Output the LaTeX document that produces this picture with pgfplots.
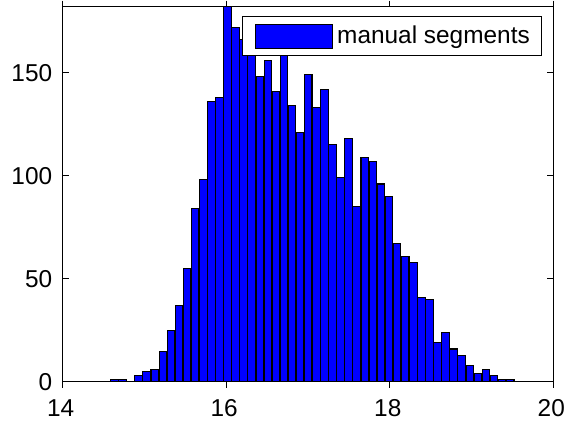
\documentclass[border=0pt]{standalone}
\usepackage{fontspec}
\setmainfont{Liberation Sans}
\usepackage{pgfplots}
\pgfplotsset{compat=1.18}
\definecolor{barblue}{RGB}{0,0,255}

% histogram counts, 50 bins (bin centres, counts)
\begin{document}
\fontsize{12.2pt}{14pt}\selectfont
\begin{tikzpicture}
\begin{axis}[
  scale only axis,
  width=245.3pt, height=187.65pt,
  xmin=14, xmax=20, ymin=0, ymax=182,
  xtick={14,16,18,20},
  ytick={0,50,100,150},
  tick align=inside,
  major tick length=3pt,
  tick style={black, line width=0.5pt},
  axis line style={black, line width=0.5pt},
  /pgf/number format/assume math mode=true,
  xticklabel style={yshift=-1.5pt, xshift=-1pt},
  yticklabel style={xshift=-1pt},
  ybar, bar width=0.093, bar shift=0pt,
  legend image code/.code={\path (-2.5pt,0pt); \draw[#1] (0pt,-6pt) rectangle (38.5pt,6pt);},
  legend style={at={(1,1)}, anchor=north east, xshift=-5.5pt, yshift=-4.6pt,
    draw=black, line width=0.5pt, inner xsep=4pt, inner ysep=2.5pt,
    nodes={inner sep=2pt}},
]
\addplot[fill=barblue, draw=black, line width=0.55pt] coordinates {
(14.632,1) (14.731,1) (14.928,3) (15.027,5) (15.126,6)
(15.225,15) (15.324,25) (15.422,37) (15.521,55) (15.620,84)
(15.719,98) (15.818,136) (15.916,138) (16.015,182) (16.114,172)
(16.213,166) (16.312,163) (16.410,148) (16.509,156) (16.608,141)
(16.707,161) (16.806,134) (16.904,121) (17.003,149) (17.102,133)
(17.201,142) (17.300,115) (17.398,99) (17.497,118) (17.596,85)
(17.695,109) (17.794,107) (17.892,96) (17.991,90) (18.090,67)
(18.189,61) (18.288,58) (18.386,41) (18.485,40) (18.584,19)
(18.683,24) (18.782,16) (18.880,13) (18.979,8) (19.078,4)
(19.177,6) (19.276,3) (19.374,1) (19.473,1)
};
\addlegendentry{manual segments}
\end{axis}
\pgfresetboundingbox
\path (current axis.south west) ++(-31.35pt,-19.5pt)
  rectangle ([shift={(252.15pt,191pt)}]current axis.south west);
\end{tikzpicture}
\end{document}
